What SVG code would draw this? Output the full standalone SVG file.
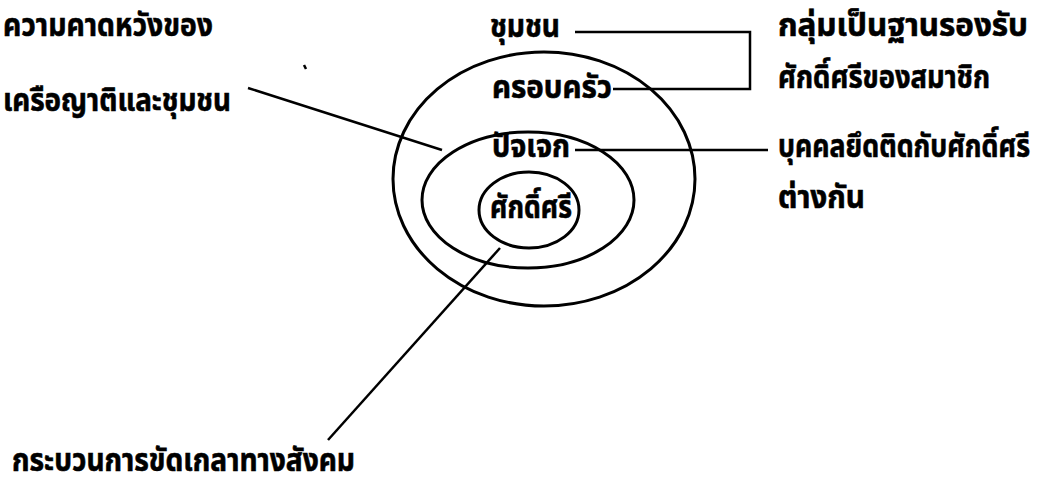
<svg xmlns="http://www.w3.org/2000/svg" width="1044" height="477" viewBox="0 0 1044 477">
<style>
text{font-family:"Noto Sans Thai","Noto Sans","DejaVu Sans",sans-serif;font-weight:bold;font-size:32px;fill:#000;stroke:#000;stroke-width:0.6}
.ring{fill:none;stroke:#000;stroke-width:3}
.conn{fill:none;stroke:#000;stroke-width:2.5}
</style>
<rect width="1044" height="477" fill="#fff"/>
<g id="rings">
<ellipse id="outer" class="ring" cx="544" cy="179" rx="151" ry="127"/>
<ellipse id="middle" class="ring" cx="528" cy="200" rx="106" ry="68"/>
<ellipse id="inner" class="ring" cx="529" cy="210" rx="50" ry="38"/>
</g>
<g id="connectors">
<polyline class="conn" points="575,32 750,32 750,89 613,89"/>
<line class="conn" x1="575" y1="150" x2="768" y2="150"/>
<line class="conn" x1="248" y1="88" x2="442" y2="150" stroke-width="3"/>
<line class="conn" x1="500" y1="248" x2="328" y2="440" stroke-width="4"/>
<line class="conn" x1="304" y1="65" x2="306" y2="69" stroke-width="1.5"/>
</g>
<g id="n-community"><text x="490" y="37" textLength="70" lengthAdjust="spacingAndGlyphs">ชุมชน</text></g>
<g id="n-family"><text x="492" y="98" textLength="120" lengthAdjust="spacingAndGlyphs">ครอบครัว</text></g>
<g id="n-individual"><text x="492" y="157" textLength="78" lengthAdjust="spacingAndGlyphs">ปัจเจก</text></g>
<g id="n-dignity"><text x="490" y="218" textLength="82" lengthAdjust="spacingAndGlyphs">ศักดิ์ศรี</text></g>
<g id="l-expect">
<text x="3" y="36" textLength="210" lengthAdjust="spacingAndGlyphs">ความคาดหวังของ</text>
<text x="3" y="111" textLength="228" lengthAdjust="spacingAndGlyphs">เครือญาติและชุมชน</text>
</g>
<g id="l-group">
<text x="778" y="36" textLength="250" lengthAdjust="spacingAndGlyphs">กลุ่มเป็นฐานรองรับ</text>
<text x="778" y="88" textLength="212" lengthAdjust="spacingAndGlyphs">ศักดิ์ศรีของสมาชิก</text>
</g>
<g id="l-person">
<text x="778" y="157" textLength="252" lengthAdjust="spacingAndGlyphs">บุคคลยึดติดกับศักดิ์ศรี</text>
<text x="778" y="208" textLength="87" lengthAdjust="spacingAndGlyphs">ต่างกัน</text>
</g>
<g id="l-social"><text x="12" y="471" textLength="343" lengthAdjust="spacingAndGlyphs">กระบวนการขัดเกลาทางสังคม</text></g>
</svg>
